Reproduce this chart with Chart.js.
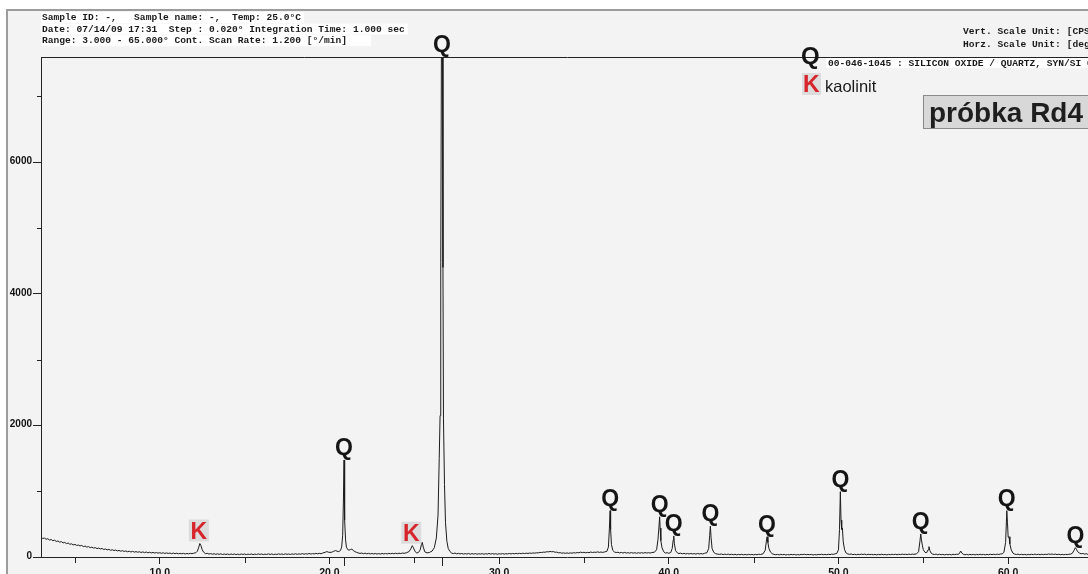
<!DOCTYPE html>
<html>
<head>
<meta charset="utf-8">
<title>XRD – próbka Rd4</title>
<script src="https://cdn.jsdelivr.net/npm/chart.js@4.4.1/dist/chart.umd.min.js"></script>
<style>
  html, body { margin: 0; padding: 0; background: #fff; overflow: hidden; }
  body { width: 1088px; height: 574px; }
  canvas { display: block; }
</style>
</head>
<body>
<canvas id="xrd" width="1094" height="574"></canvas>
<script>
// Diffraction scan, [2theta (deg), intensity (CPS)]
const scanLow = [
  [3.00,296],[3.10,282],[3.20,288],[3.30,270],[3.40,278],[3.50,258],[3.60,266],[3.70,248],
  [3.80,256],[3.90,236],[4.00,244],[4.10,226],[4.20,234],[4.30,214],[4.40,222],[4.50,204],
  [4.60,212],[4.70,194],[4.80,200],[4.90,184],[5.00,192],[5.10,176],[5.20,182],[5.30,168],
  [5.40,176],[5.50,158],[5.60,166],[5.70,150],[5.80,158],[5.90,142],[6.00,150],[6.10,136],
  [6.20,142],[6.30,128],[6.40,136],[6.50,122],[6.60,130],[6.70,114],[6.80,122],[6.90,108],
  [7.00,116],[7.10,102],[7.20,110],[7.30,98],[7.40,106],[7.50,92],[7.60,100],[7.70,88],
  [7.80,96],[7.90,84],[8.00,92],[8.10,80],[8.20,88],[8.30,76],[8.40,86],[8.50,74],
  [8.60,82],[8.70,72],[8.80,80],[8.90,68],[9.00,78],[9.10,66],[9.20,76],[9.30,64],
  [9.40,72],[9.50,62],[9.60,70],[9.70,60],[9.80,68],[9.90,58],[10.0,66],[10.1,56],
  [10.2,64],[10.3,54],[10.4,62],[10.5,54],[10.6,60],[10.7,50],[10.8,60],[10.9,50],
  [11.0,58],[11.1,48],[11.2,56],[11.3,48],[11.4,56],[11.5,46],[11.6,54],[11.7,48],
  [11.8,56],[11.9,50],[12.0,58],[12.12,64],[12.22,90],[12.30,150],[12.36,205],[12.42,178],
  [12.50,112],[12.58,74],[12.70,50],[12.80,56],[12.90,44],[13.0,52],[13.1,42],[13.2,50],
  [13.3,40],[13.4,48],[13.5,40],[13.6,48],[13.7,38],[13.8,46],[13.9,38],[14.0,46],
  [14.1,36],[14.2,46],[14.3,38],[14.4,46],[14.5,36],[14.6,44],[14.7,36],[14.8,46],
  [14.9,38],[15.0,46],[15.1,36],[15.2,44],[15.3,38],[15.4,46],[15.5,36],[15.6,44],
  [15.7,38],[15.8,48],[15.9,38],[16.0,46],[16.1,36],[16.2,44],[16.3,38],[16.4,48],
  [16.5,38],[16.6,46],[16.7,36],[16.8,44],[16.9,38],[17.0,48],[17.1,40],[17.2,46],
  [17.3,38],[17.4,48],[17.5,40],[17.6,46],[17.7,38],[17.8,48],[17.9,40],[18.0,50],
  [18.1,40],[18.2,48],[18.3,42],[18.4,52],[18.5,42],[18.6,50],[18.7,44],[18.8,54],
  [18.9,44],[19.0,52],[19.1,46],[19.2,56],[19.3,48],[19.4,56],[19.5,50],[19.6,60],
  [19.75,72],[19.85,82],[19.95,72],[20.10,70],[20.25,86],[20.35,98],[20.45,88],[20.55,82],
  [20.65,100],[20.72,150],[20.78,330],[20.82,820],[20.86,1474],[20.88,1100],[20.91,560],[20.95,260],
  [21.00,150],[21.08,112],[21.15,104],[21.25,114],[21.32,120],[21.40,100],[21.50,82],[21.60,70]
];
const scanMid = [
  [21.7,62],[21.8,54],[21.9,60],[22.0,50],[22.1,58],[22.2,48],[22.3,56],[22.4,46],
  [22.5,54],[22.6,46],[22.7,54],[22.8,44],[22.9,52],[23.0,44],[23.1,54],[23.2,46],
  [23.3,54],[23.4,46],[23.5,56],[23.6,48],[23.7,56],[23.8,48],[23.9,58],[24.0,50],
  [24.1,58],[24.2,52],[24.3,60],[24.4,56],[24.55,66],[24.70,84],[24.80,128],[24.88,172],
  [24.95,140],[25.05,82],[25.15,60],[25.25,70],[25.35,110],[25.42,188],[25.47,223],[25.53,150],
  [25.62,78],[25.75,62],[25.90,70],[26.05,90],[26.18,140],[26.30,290],[26.40,640],[26.47,1500],
  [26.52,2150],[26.56,4480],[26.60,7800],[26.66,7800],[26.69,4400],[26.72,2100],[26.78,1100],[26.84,520],
  [26.92,240],[27.00,130],[27.10,84],[27.20,60],[27.3,52],[27.4,60],[27.5,48],[27.6,56],
  [27.7,46],[27.8,54],[27.9,44],[28.0,52],[28.1,44],[28.2,54],[28.3,42],[28.4,52],
  [28.5,44],[28.6,52],[28.7,42],[28.8,50],[28.9,44],[29.0,52],[29.1,42],[29.2,50],
  [29.3,44],[29.4,54],[29.5,44],[29.6,52],[29.7,44],[29.8,50],[29.9,42],[30.0,50],
  [30.1,44],[30.2,52],[30.3,44],[30.4,50],[30.5,46],[30.6,54],[30.7,46],[30.8,54],
  [30.9,48],[31.0,56],[31.1,48],[31.2,56],[31.3,50],[31.4,58],[31.5,52],[31.6,58],
  [31.7,54],[31.8,60],[31.9,56],[32.0,62],[32.1,58],[32.2,64],[32.3,62],[32.4,70],
  [32.5,68],[32.6,74],[32.7,72],[32.8,80],[32.9,78],[33.0,84],[33.1,80],[33.2,82],
  [33.3,72],[33.4,74],[33.5,64],[33.6,66],[33.7,58],[33.8,62],[33.9,56],[34.0,62],
  [34.1,56],[34.2,62],[34.3,58],[34.4,66],[34.5,60],[34.6,68],[34.7,64],[34.8,74],
  [34.9,66],[35.0,72],[35.1,64],[35.2,70],[35.3,66],[35.4,76],[35.5,68],[35.6,74],
  [35.7,70],[35.8,78],[35.9,70],[36.0,76],[36.1,70],[36.2,76],[36.35,86],[36.44,150],
  [36.50,440],[36.54,704],[36.57,420],[36.62,190],[36.70,100],[36.80,76],[36.90,68]
];
const scanHigh = [
  [37.0,72],[37.1,62],[37.2,70],[37.3,60],[37.4,70],[37.5,60],[37.6,66],[37.7,58],
  [37.8,68],[37.9,58],[38.0,66],[38.1,56],[38.2,66],[38.3,58],[38.4,66],[38.5,58],
  [38.6,68],[38.7,60],[38.8,66],[38.9,60],[39.0,68],[39.15,72],[39.28,110],[39.36,260],
  [39.42,456],[39.46,612],[39.49,440],[39.53,250],[39.60,140],[39.70,80],[39.80,60],[39.90,66],
  [40.0,56],[40.12,70],[40.20,130],[40.26,260],[40.29,320],[40.33,200],[40.40,96],[40.5,64],
  [40.6,52],[40.7,58],[40.8,48],[40.9,56],[41.0,46],[41.1,54],[41.2,46],[41.3,54],
  [41.4,46],[41.5,52],[41.6,44],[41.7,54],[41.8,46],[41.9,52],[42.0,46],[42.1,56],
  [42.25,66],[42.35,130],[42.41,330],[42.45,471],[42.49,300],[42.55,130],[42.65,70],[42.75,52],
  [42.85,44],[43.0,40],[43.1,46],[43.2,36],[43.3,44],[43.4,36],[43.5,44],[43.6,34],
  [43.7,42],[43.8,34],[43.9,42],[44.0,32],[44.1,40],[44.2,34],[44.3,42],[44.4,32],
  [44.5,40],[44.6,32],[44.7,40],[44.8,34],[44.9,40],[45.0,32],[45.1,40],[45.2,34],
  [45.3,42],[45.4,38],[45.55,48],[45.68,100],[45.75,240],[45.79,308],[45.84,220],[45.90,130],
  [46.0,72],[46.1,50],[46.2,40],[46.3,34],[46.4,40],[46.5,32],[46.6,40],[46.7,34],
  [46.8,40],[46.9,30],[47.0,38],[47.1,32],[47.2,40],[47.3,34],[47.4,40],[47.5,30],
  [47.6,38],[47.7,32],[47.8,40],[47.9,36],[48.0,42],[48.1,34],[48.2,40],[48.3,34],
  [48.4,40],[48.5,30],[48.6,38],[48.7,32],[48.8,40],[48.9,36],[49.0,42],[49.1,34],
  [49.2,40],[49.3,34],[49.4,42],[49.5,36],[49.6,44],[49.7,40],[49.8,48],[49.9,54],
  [50.00,110],[50.06,420],[50.11,993],[50.15,560],[50.19,420],[50.23,441],[50.28,230],[50.36,110],
  [50.45,60],[50.55,46],[50.65,40],[50.75,46],[50.85,36],[50.95,42],[51.05,34],[51.15,42],
  [51.25,36],[51.35,44],[51.45,38],[51.55,44],[51.65,34],[51.75,42],[51.85,36],[51.95,40],
  [52.05,34],[52.15,40],[52.25,32],[52.35,40],[52.45,34],[52.55,42],[52.65,34],[52.75,40],
  [52.85,32],[52.95,40],[53.05,34],[53.15,42],[53.25,36],[53.35,42],[53.45,34],[53.55,42],
  [53.65,36],[53.75,44],[53.85,38],[53.95,42],[54.05,36],[54.15,44],[54.25,38],[54.35,44],
  [54.45,40],[54.60,48],[54.72,80],[54.80,240],[54.85,350],[54.89,260],[54.94,180],[55.00,110],
  [55.10,70],[55.20,66],[55.28,110],[55.33,157],[55.38,100],[55.46,60],[55.55,44],[55.65,38],
  [55.75,44],[55.85,34],[55.95,42],[56.05,34],[56.15,40],[56.25,32],[56.35,40],[56.45,34],
  [56.55,40],[56.65,32],[56.75,42],[56.85,36],[56.95,42],[57.05,40],[57.12,50],[57.20,91],
  [57.27,60],[57.35,42],[57.45,34],[57.55,40],[57.65,32],[57.75,40],[57.85,34],[57.95,40],
  [58.05,32],[58.15,40],[58.25,34],[58.35,42],[58.45,34],[58.55,40],[58.65,32],[58.75,40],
  [58.85,34],[58.95,42],[59.05,36],[59.15,42],[59.25,36],[59.35,44],[59.45,38],[59.55,46],
  [59.65,48],[59.75,70],[59.85,220],[59.92,704],[59.96,520],[60.00,300],[60.05,308],[60.10,200],
  [60.18,110],[60.28,60],[60.38,44],[60.48,38],[60.58,44],[60.68,34],[60.78,42],[60.88,34],
  [60.98,40],[61.08,32],[61.18,40],[61.28,34],[61.38,42],[61.48,36],[61.58,44],[61.68,36],
  [61.78,42],[61.88,34],[61.98,42],[62.08,36],[62.18,42],[62.28,38],[62.38,46],[62.48,40],
  [62.58,46],[62.68,38],[62.78,44],[62.88,36],[62.98,42],[63.08,34],[63.18,40],[63.28,34],
  [63.38,40],[63.48,36],[63.58,42],[63.68,44],[63.78,56],[63.88,100],[63.96,142],[64.02,118],
  [64.10,80],[64.20,60],[64.30,48],[64.40,54],[64.50,44],[64.60,50],[64.70,40],[64.80,48],
  [64.90,40],[65.00,46]
];

// Phase identification (peak positions, 2theta)
const quartzPeaks = [20.86, 26.63, 36.54, 39.46, 40.29, 42.45, 45.79, 50.11, 54.85, 59.92, 63.96];
const kaolinitePeaks = [12.36, 24.88];
const quartzStubs = [20.86, 26.63];

// Axis ticks
const xMajorTicks = [10, 20, 30, 40, 50, 60];
const xMinorTicks = [5, 15, 25, 35, 45, 55];
const yMajorTicks = [0, 2000, 4000, 6000];
const yMinorTicks = [1000, 3000, 5000, 7000];

// Measurement header
const headerLines = [
  'Sample ID: -,   Sample name: -,  Temp: 25.0°C',
  'Date: 07/14/09 17:31  Step : 0.020° Integration Time: 1.000 sec',
  'Range: 3.000 - 65.000° Cont. Scan Rate: 1.200 [°/min]'
];
const unitLines = ['Vert. Scale Unit: [CPS]', 'Horz. Scale Unit: [deg]'];
const quartzCard = '00-046-1045 : SILICON OXIDE / QUARTZ, SYN/SI O';
const kaoliniteName = 'kaolinit';
const sampleTitle = 'próbka Rd4';

const scan = scanLow.concat(scanMid, scanHigh).map(([x, y]) => ({ x, y }));

function peakTop(angle) {
  let m = 0;
  for (const p of scan) if (Math.abs(p.x - angle) <= 0.1 && p.y > m) m = p.y;
  return m;
}

const MONO = 'bold 9.6px "Liberation Mono", "DejaVu Sans Mono", monospace';
const SANS = '"Liberation Sans", Arial, sans-serif';

const framePlugin = {
  id: 'frame',
  beforeDraw(chart) {
    const { ctx, width, height } = chart;
    ctx.save();
    ctx.fillStyle = '#ffffff';
    ctx.fillRect(0, 0, width, height);
    ctx.fillStyle = '#f3f3f3';
    ctx.fillRect(8, 11, width, height);
    ctx.strokeStyle = '#9c9c9c';
    ctx.lineWidth = 2;
    ctx.beginPath();
    ctx.moveTo(7, height);
    ctx.lineTo(7, 10);
    ctx.lineTo(width, 10);
    ctx.stroke();

    // measurement header
    ctx.font = MONO;
    ctx.textBaseline = 'middle';
    headerLines.forEach((t, i) => {
      const y = 17.5 + i * 11.6;
      const w = ctx.measureText(t).width;
      ctx.fillStyle = '#ffffff';
      ctx.fillRect(41, y - 5.5, (i === 2 ? 330 : w + 4), 11);
      ctx.fillStyle = '#1a1a1a';
      ctx.fillText(t, 42, y);
    });
    unitLines.forEach((t, i) => {
      ctx.fillStyle = '#1a1a1a';
      ctx.fillText(t, 963, 32 + i * 13);
    });
    ctx.restore();
  }
};

const annotatePlugin = {
  id: 'annotate',
  afterDraw(chart) {
    const { ctx, chartArea, scales } = chart;
    const xs = scales.x, ys = scales.y;
    ctx.save();

    // top border of the plot
    ctx.strokeStyle = '#222';
    ctx.lineWidth = 1;
    ctx.beginPath();
    ctx.moveTo(chartArea.left, chartArea.top + 0.5);
    ctx.lineTo(chart.width, chartArea.top + 0.5);
    ctx.stroke();

    // minor ticks
    ctx.beginPath();
    xMinorTicks.forEach(v => {
      const px = Math.round(xs.getPixelForValue(v)) + 0.5;
      ctx.moveTo(px, chartArea.bottom);
      ctx.lineTo(px, chartArea.bottom + 6);
    });
    yMinorTicks.forEach(v => {
      const py = Math.round(ys.getPixelForValue(v)) + 0.5;
      ctx.moveTo(chartArea.left - 4, py);
      ctx.lineTo(chartArea.left, py);
    });
    // reference stubs of the strongest quartz lines
    quartzStubs.forEach(v => {
      const px = Math.round(xs.getPixelForValue(v)) + 0.5;
      ctx.moveTo(px, chartArea.bottom);
      ctx.lineTo(px, chartArea.bottom + 9);
    });
    ctx.stroke();

    // phase labels above peaks
    ctx.textAlign = 'center';
    ctx.textBaseline = 'alphabetic';
    ctx.font = 'bold 23px ' + SANS;
    quartzPeaks.forEach(a => {
      const px = xs.getPixelForValue(a);
      const py = Math.max(ys.getPixelForValue(peakTop(a)), chartArea.top);
      ctx.fillStyle = '#151515';
      ctx.fillText('Q', px, py - 5);
    });
    kaolinitePeaks.forEach(a => {
      const px = xs.getPixelForValue(a) - 1;
      const py = ys.getPixelForValue(peakTop(a)) - 5;
      ctx.fillStyle = '#dcdcdc';
      ctx.fillRect(px - 10, py - 19, 20, 22);
      ctx.fillStyle = '#d7262b';
      ctx.fillText('K', px, py);
    });

    // phase legend
    ctx.textAlign = 'left';
    ctx.font = 'bold 24px ' + SANS;
    ctx.fillStyle = '#151515';
    ctx.fillText('Q', 801, 64);
    ctx.font = MONO;
    const cw = ctx.measureText(quartzCard).width;
    ctx.fillStyle = '#ffffff';
    ctx.fillRect(826, 58, cw + 4, 10);
    ctx.fillStyle = '#1a1a1a';
    ctx.textBaseline = 'middle';
    ctx.fillText(quartzCard, 828, 63.5);
    ctx.textBaseline = 'alphabetic';
    ctx.fillStyle = '#dcdcdc';
    ctx.fillRect(802, 73, 19, 22);
    ctx.font = 'bold 23px ' + SANS;
    ctx.fillStyle = '#d7262b';
    ctx.fillText('K', 803, 92);
    ctx.font = '16.5px ' + SANS;
    ctx.fillStyle = '#1a1a1a';
    ctx.fillText(kaoliniteName, 825, 92);

    // sample name box
    ctx.fillStyle = '#d8d8d8';
    ctx.fillRect(923.5, 95.5, 200, 33);
    ctx.strokeStyle = '#8a8a8a';
    ctx.lineWidth = 1;
    ctx.strokeRect(923.5, 95.5, 200, 33);
    ctx.font = 'bold 28px ' + SANS;
    ctx.fillStyle = '#1e1e1e';
    ctx.fillText(sampleTitle, 929, 122);

    ctx.restore();
  }
};

new Chart(document.getElementById('xrd'), {
  type: 'scatter',
  data: {
    datasets: [{
      data: scan,
      showLine: true,
      borderColor: '#1c1c1c',
      borderWidth: 1,
      pointRadius: 0,
      tension: 0
    }]
  },
  options: {
    responsive: false,
    devicePixelRatio: 1,
    animation: false,
    layout: { padding: { top: 57, right: 1, left: 0, bottom: 0 } },
    plugins: { legend: { display: false }, tooltip: { enabled: false } },
    scales: {
      x: {
        type: 'linear',
        min: 3,
        max: 65,
        afterBuildTicks: s => { s.ticks = xMajorTicks.map(v => ({ value: v })); },
        afterFit: s => { s.height = 17; },
        border: { display: true, color: '#222', width: 1 },
        grid: { display: true, drawOnChartArea: false, drawTicks: true, tickLength: 7, color: '#222', tickColor: '#222' },
        ticks: {
          padding: 3,
          maxRotation: 0,
          autoSkip: false,
          color: '#111',
          font: { family: SANS, size: 10.5, weight: 'bold' },
          callback: v => Number(v).toFixed(1)
        }
      },
      y: {
        type: 'linear',
        min: 0,
        max: 7600,
        afterBuildTicks: s => { s.ticks = yMajorTicks.map(v => ({ value: v })); },
        afterFit: s => { s.width = 41; },
        border: { display: true, color: '#222', width: 1 },
        grid: { display: true, drawOnChartArea: false, drawTicks: true, tickLength: 8, color: '#222', tickColor: '#222' },
        ticks: {
          padding: 1,
          labelOffset: -1,
          autoSkip: false,
          color: '#111',
          font: { family: SANS, size: 10, weight: 'bold' },
          callback: v => String(v)
        }
      }
    }
  },
  plugins: [framePlugin, annotatePlugin]
});
</script>
</body>
</html>
